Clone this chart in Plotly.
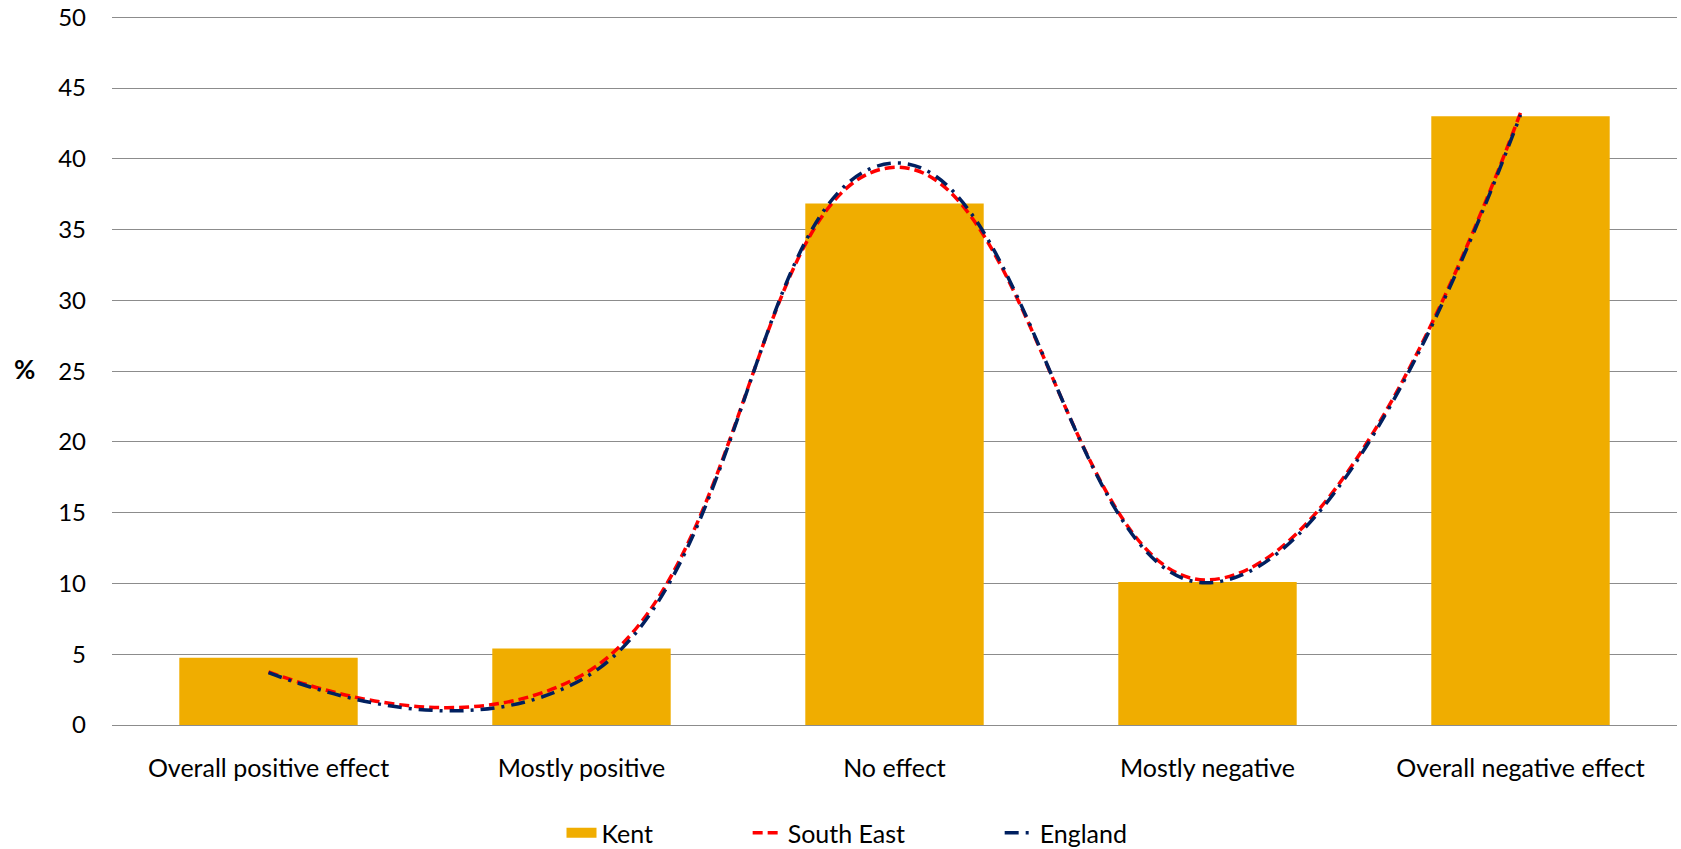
import plotly.graph_objects as go

categories = ["Overall positive effect", "Mostly positive", "No effect", "Mostly negative", "Overall negative effect"]
kent = [4.75, 5.4, 36.85, 10.1, 43.0]
south_east = [3.75, 3.5, 39.4, 10.25, 43.25]
england = [3.7, 3.2, 39.7, 10.05, 43.1]
y_ticks = list(range(0, 51, 5))
legend_names = ["Kent", "South East", "England"]

FONT = "Lato"
BAR_COLOR = "#F0AD00"
PAD = "\u00a0" * 14

fig = go.Figure()
fig.add_trace(go.Bar(x=categories, y=kent, name=legend_names[0], marker_color=BAR_COLOR,
                     marker_line_width=0, showlegend=False))
# legend-only entry so the Kent key is drawn as a wide swatch
fig.add_trace(go.Scatter(x=[None], y=[None], name=legend_names[0] + PAD, mode="lines",
                         line=dict(color=BAR_COLOR, width=15)))
fig.add_trace(go.Scatter(x=categories, y=south_east, name=legend_names[1] + PAD, mode="lines",
                         line=dict(color="#FF0000", width=3.5, dash="10px,5px",
                                   shape="spline", smoothing=1.3)))
fig.add_trace(go.Scatter(x=categories, y=england, name=legend_names[2], mode="lines",
                         line=dict(color="#002060", width=3.5, dash="14px,7px,3px,7px",
                                   shape="spline", smoothing=1.3)))

fig.add_annotation(text="<b>%</b>", xref="paper", yref="paper", x=-0.0562, y=0.5,
                   xanchor="center", yanchor="middle",
                   showarrow=False, font=dict(family=FONT, size=26, color="#000000"))

fig.update_layout(
    width=1681, height=849,
    margin=dict(l=112, r=4, t=13, b=124),
    plot_bgcolor="white", paper_bgcolor="white",
    bargap=0.43,
    font=dict(family=FONT, size=25, color="#000000"),
    showlegend=True,
    legend=dict(orientation="h", x=847 / 1681, xref="container", xanchor="center",
                y=(849 - 833) / 849, yref="container", yanchor="middle",
                font=dict(family=FONT, size=25), traceorder="normal"),
    xaxis=dict(showgrid=False, showline=False, ticks="", tickfont=dict(size=25),
               ticklabelstandoff=26, automargin=False),
    yaxis=dict(range=[0, 50.3], tickvals=y_ticks, showgrid=True, gridcolor="#8C8C8C",
               gridwidth=1.3, zeroline=True, zerolinecolor="#8C8C8C", zerolinewidth=1.3,
               ticks="", tickfont=dict(size=24), ticklabelstandoff=25, automargin=False),
)

fig.write_html("out.html", config={"displayModeBar": False},
               post_script="document.body.style.margin='0px';")
